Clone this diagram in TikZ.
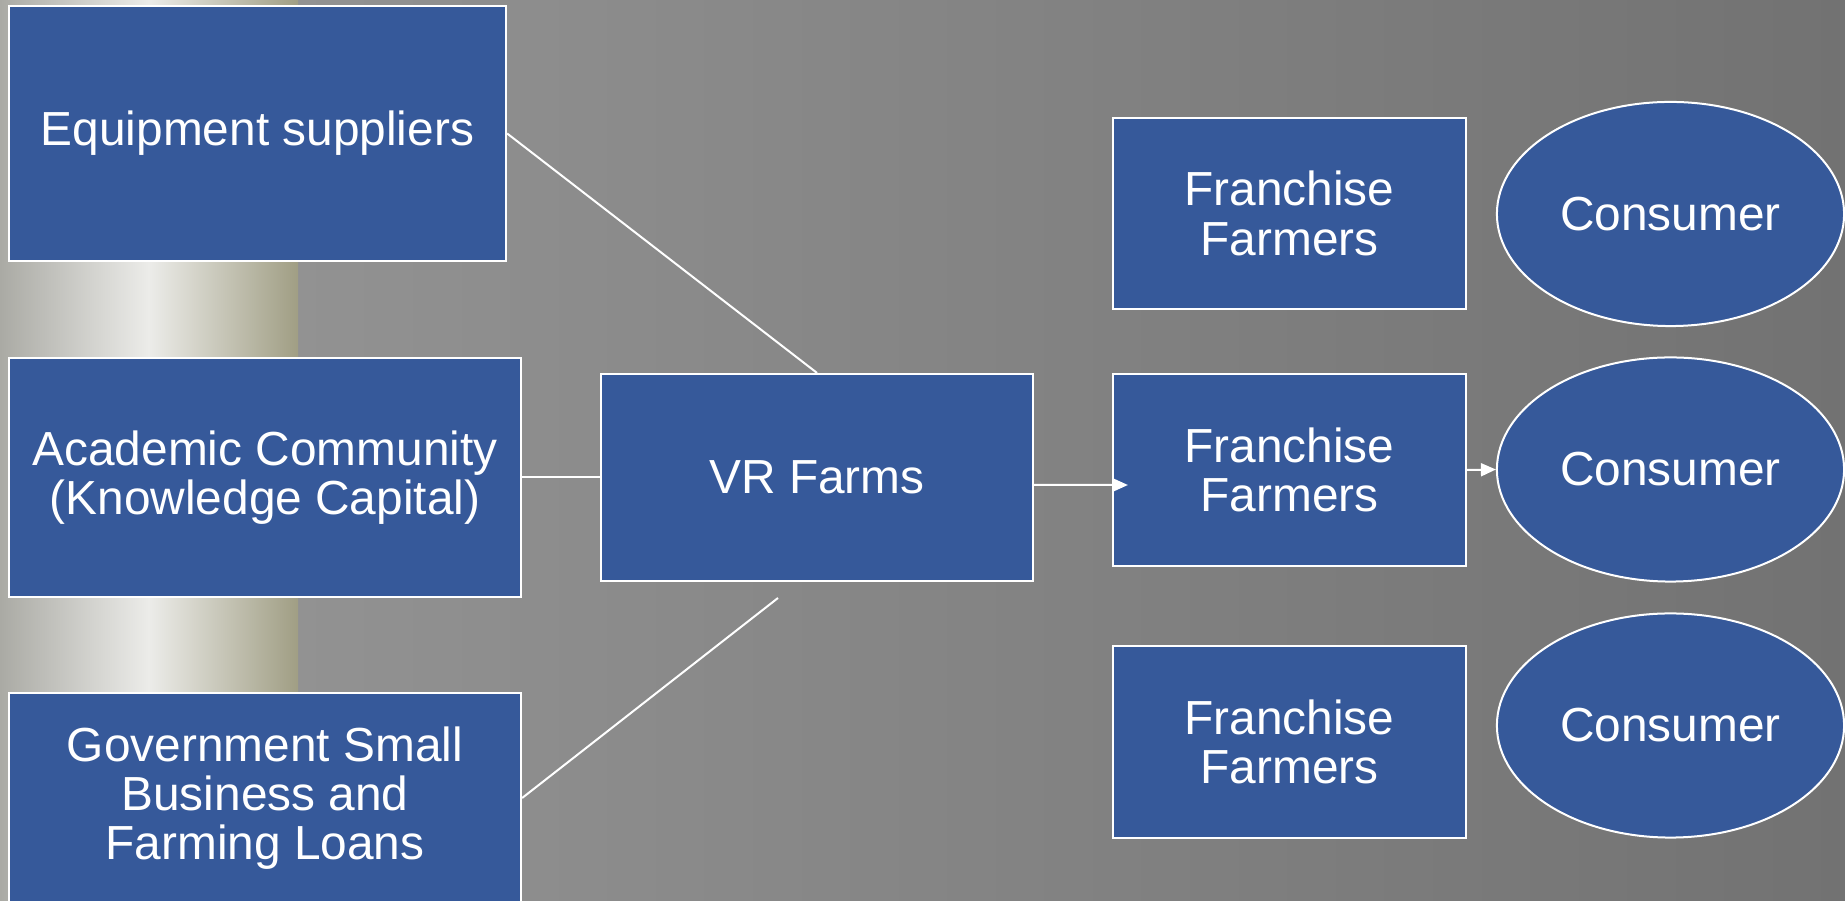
\documentclass[tikz,border=0pt]{standalone}
\usepackage{fontspec}
\setmainfont{Liberation Sans}
\usetikzlibrary{arrows.meta,shapes.geometric}
\definecolor{boxblue}{RGB}{54,89,154}
\definecolor{bgleft}{RGB}{152,152,152}
\definecolor{bgright}{RGB}{114,114,114}
\definecolor{photoleft}{RGB}{170,170,164}
\definecolor{photomid}{RGB}{236,236,233}
\definecolor{photoright}{RGB}{160,158,132}

\begin{document}
\begin{tikzpicture}[x=0.01cm,y=-0.01cm,
        bx/.style={draw=white,line width=0.02cm,fill=boxblue,text=white,align=center,
            inner sep=0pt,font=\fontsize{13.6}{14}\selectfont},
        cons/.style={bx,ellipse},
        ln/.style={white,line width=0.02cm},
        ar/.style={ln,-{Triangle[length=0.15cm,width=0.13cm]}}]
        \useasboundingbox (0,0) rectangle (1845,901);
        \shade[left color=bgleft,right color=bgright] (0,0) rectangle (1845,901);
        \shade[left color=photoleft,right color=photoright,middle color=photomid] (0,0) rectangle (298,901);
        \node[bx,minimum width=4.97cm,minimum height=2.55cm] (equip) at (257.5,133.5) {Equipment suppliers};
        \node[bx,minimum width=5.12cm,minimum height=2.39cm] (acad) at (265,477.5) {Academic Community\\(Knowledge Capital)};
        \node[bx,minimum width=5.12cm,minimum height=2.1cm] (gov) at (265,798) {Government Small\\Business and\\Farming Loans};
        \node[bx,minimum width=4.32cm,minimum height=2.07cm] (vr) at (817,477.5) {VR Farms};
        \foreach[count=\i] \y/\c in {213.5/214,470/469.5,742/725.5} {
            \node[bx,minimum width=3.53cm,minimum height=1.91cm] (fr\i) at (1289.5,\y) {Franchise\\Farmers};
            \node[cons,minimum width=3.47cm,minimum height=2.24cm] (con\i) at (1670.5,\c) {Consumer};
        }
        \coordinate (govend) at (778,598);
        \draw[ln] (equip.east) -- (vr.north);
        \draw[ln] (acad.east) -- (vr.west);
        \draw[ln] (gov.east) -- (govend);
        \draw[ar] ([yshift=-0.075cm]vr.east) -- ([xshift=0.16cm,yshift=-0.15cm]fr2.west);
        \draw[ar] (fr2.east) -- (con2.west);
    \end{tikzpicture}
\end{document}
